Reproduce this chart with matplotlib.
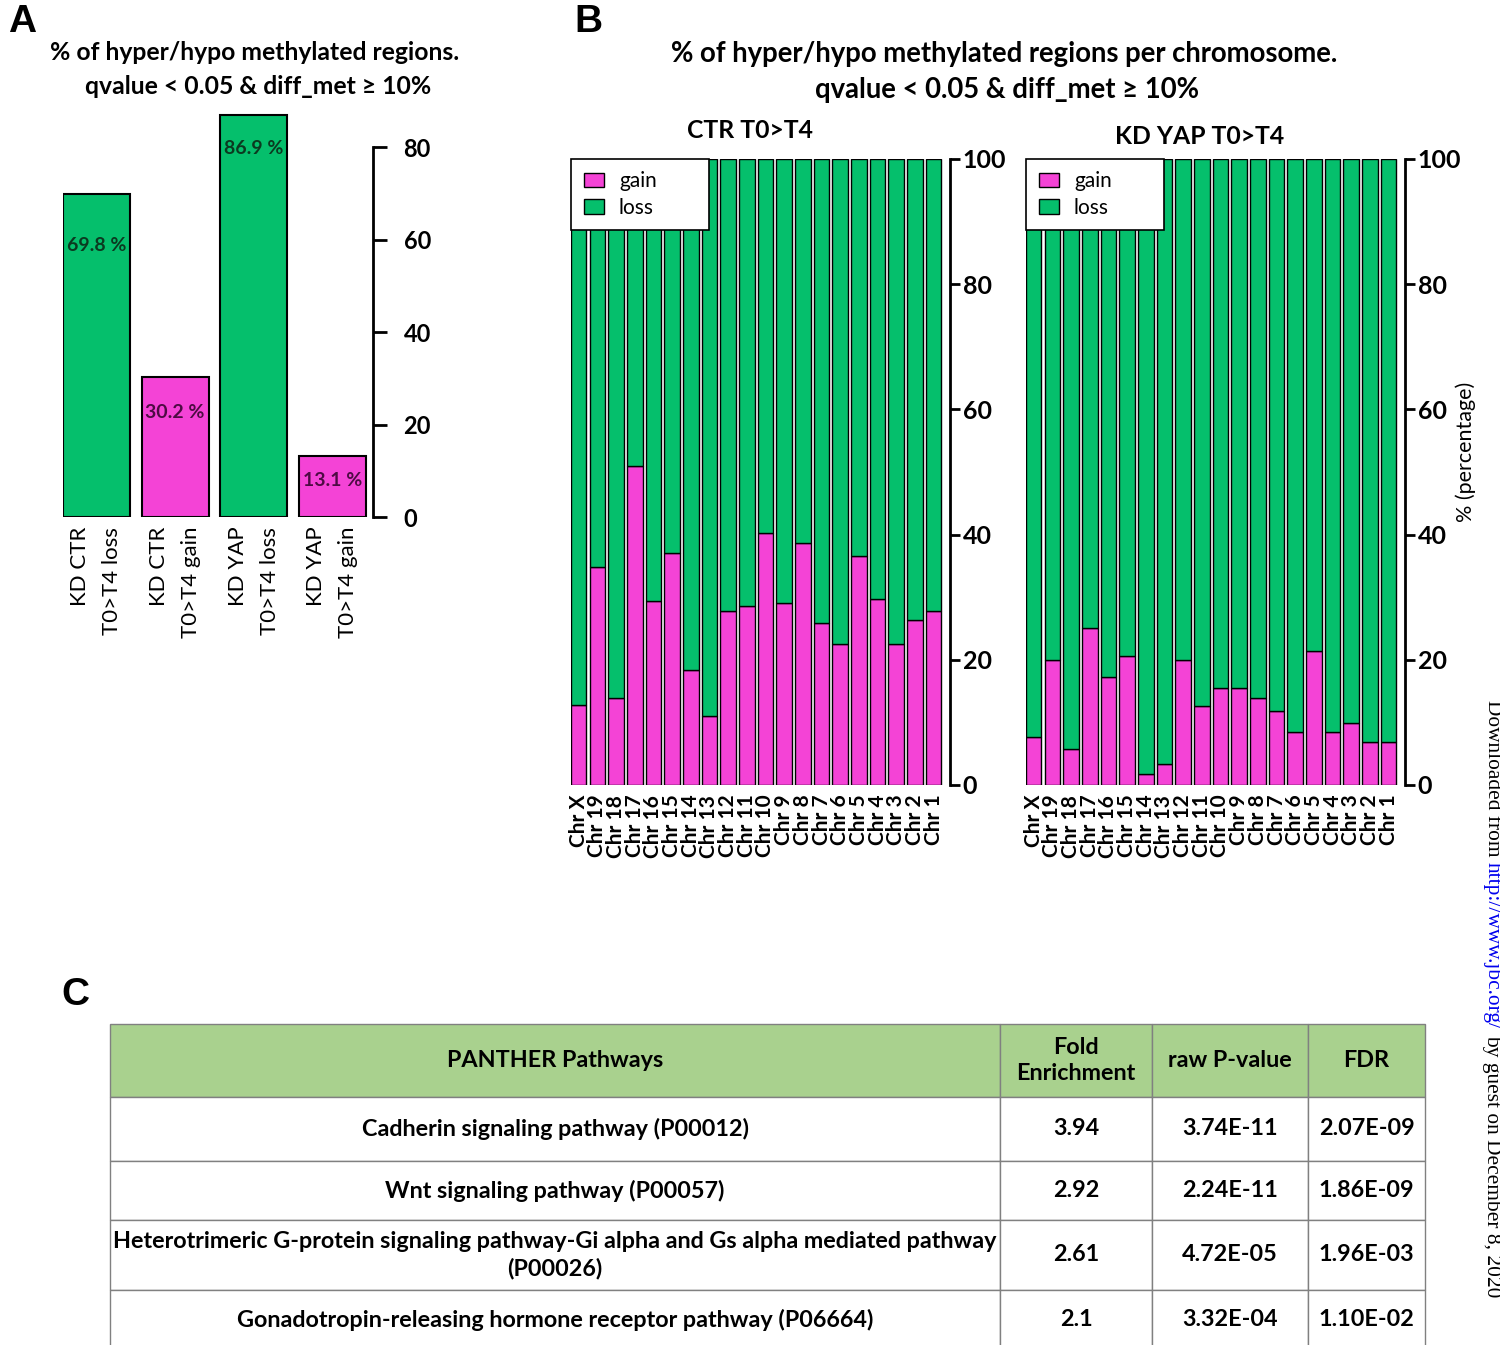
import matplotlib.pyplot as plt

W, H = 1500, 1345
FONT = ['Lato', 'DejaVu Sans']
GREEN = '#05BF6C'
PINK = '#F443D6'

plt.rcParams['font.family'] = FONT

# panel A : global share of gained / lost methylation
groups_a = ['KD CTR\nT0>T4 loss', 'KD CTR\nT0>T4 gain', 'KD YAP\nT0>T4 loss', 'KD YAP\nT0>T4 gain']
pct_a = [69.8, 30.2, 86.9, 13.1]
is_loss_a = [True, False, True, False]

# panel B : % gain per chromosome (loss is the rest up to 100)
chroms = ['Chr X', 'Chr 19', 'Chr 18', 'Chr 17', 'Chr 16', 'Chr 15', 'Chr 14', 'Chr 13', 'Chr 12', 'Chr 11',
          'Chr 10', 'Chr 9', 'Chr 8', 'Chr 7', 'Chr 6', 'Chr 5', 'Chr 4', 'Chr 3', 'Chr 2', 'Chr 1']
gain_ctr = [12.8, 34.8, 13.9, 50.9, 29.4, 37.1, 18.3, 11.0, 27.8, 28.6,
            40.3, 29.0, 38.6, 25.9, 22.6, 36.6, 29.7, 22.6, 26.4, 27.8]
gain_yap = [7.7, 20.0, 5.8, 25.1, 17.3, 20.6, 1.7, 3.3, 20.0, 12.6,
            15.5, 15.5, 13.9, 11.9, 8.4, 21.4, 8.4, 9.9, 6.8, 6.8]

# panel C : PANTHER enrichment table
header_c = ['PANTHER Pathways', 'Fold\nEnrichment', 'raw P-value', 'FDR']
pathways = ['Cadherin signaling pathway (P00012)',
            'Wnt signaling pathway (P00057)',
            'Heterotrimeric G-protein signaling pathway-Gi alpha and Gs alpha mediated pathway\n(P00026)',
            'Gonadotropin-releasing hormone receptor pathway (P06664)']
fold_enrichment = ['3.94', '2.92', '2.61', '2.1']
raw_pvalue = ['3.74E-11', '2.24E-11', '4.72E-05', '3.32E-04']
fdr = ['2.07E-09', '1.86E-09', '1.96E-03', '1.10E-02']


def box(x0, y0, x1, y1):
    # pixel box (top-left origin) -> figure fraction
    return [x0 / W, 1 - y1 / H, (x1 - x0) / W, (y1 - y0) / H]


def at(x, y):
    return x / W, 1 - y / H


fig = plt.figure(figsize=(W / 100, H / 100), dpi=100)

# ---------- A ----------
axA = fig.add_axes(box(63, 100.75, 373, 517))
xa = range(len(pct_a))
colors_a = [GREEN if l else PINK for l in is_loss_a]
axA.bar(xa, pct_a, 0.85, color=colors_a, edgecolor='black', linewidth=1.5)
axA.set_xlim(-0.425, 3.515)
axA.set_ylim(0, 90)
label_drop = [11, 7.5, 7.3, 5.3]
for i, v in enumerate(pct_a):
    axA.text(i, v - label_drop[i], f'{v} %', ha='center', va='center', fontsize=14, fontweight='bold',
             color='#0b3a20' if is_loss_a[i] else '#4d0b43')
for s in ['left', 'top', 'bottom']:
    axA.spines[s].set_visible(False)
axA.spines['right'].set_bounds(0, 80)
axA.spines['right'].set_linewidth(2)
axA.yaxis.tick_right()
axA.set_yticks([0, 20, 40, 60, 80])
axA.tick_params(axis='y', length=10, width=2, pad=12, labelsize=17)
for t in axA.get_yticklabels():
    t.set_fontweight('bold')
axA.set_xticks(list(xa))
axA.set_xticklabels(groups_a, rotation=90, fontsize=16, multialignment='right', linespacing=1.75)
axA.tick_params(axis='x', length=0, pad=7)
axA.patch.set_visible(False)

fig.text(*at(255, 53), '% of hyper/hypo methylated regions.', ha='center', va='center', fontsize=17.8,
         fontweight='bold')
fig.text(*at(258, 86), 'qvalue < 0.05 & diff_met \u2265 10%', ha='center', va='center', fontsize=17.8,
         fontweight='bold')


# ---------- B ----------
def chrom_panel(rect, gains):
    ax = fig.add_axes(rect)
    x = range(len(chroms))
    loss = [100 - g for g in gains]
    ax.bar(x, gains, 0.83, color=PINK, edgecolor='black', linewidth=1, label='gain')
    ax.bar(x, loss, 0.83, bottom=gains, color=GREEN, edgecolor='black', linewidth=1, label='loss')
    ax.set_xlim(-0.415, 19.88)
    ax.set_ylim(0, 100)
    for s in ['left', 'top', 'bottom']:
        ax.spines[s].set_visible(False)
    ax.spines['right'].set_linewidth(2)
    ax.yaxis.tick_right()
    ax.set_yticks([0, 20, 40, 60, 80, 100])
    ax.tick_params(axis='y', length=7, width=2, pad=2, labelsize=18)
    for t in ax.get_yticklabels():
        t.set_fontweight('bold')
    ax.set_xticks(list(x))
    ax.set_xticklabels(chroms, rotation=90, fontsize=15, fontweight='bold')
    ax.tick_params(axis='x', length=0, pad=7)
    leg = ax.legend(loc='upper left', bbox_to_anchor=(0, 0, 0.364, 1), mode='expand', borderaxespad=0,
                    fontsize=15, fancybox=False, framealpha=1, edgecolor='black', handlelength=1.0,
                    handleheight=0.7, borderpad=0.6, labelspacing=0.3, handletextpad=0.7)
    leg.get_frame().set_linewidth(1.2)
    return ax


axB1 = chrom_panel(box(571, 159, 950, 785), gain_ctr)
axB2 = chrom_panel(box(1026, 159, 1405, 785), gain_yap)

fig.text(*at(1004, 54), '% of hyper/hypo methylated regions per chromosome.', ha='center', va='center',
         fontsize=19.8, fontweight='bold')
fig.text(*at(1007, 90), 'qvalue < 0.05 & diff_met \u2265 10%', ha='center', va='center', fontsize=19.8,
         fontweight='bold')
fig.text(*at(750, 131), 'CTR T0>T4', ha='center', va='center', fontsize=17.8, fontweight='bold')
fig.text(*at(1200, 136), 'KD YAP T0>T4', ha='center', va='center', fontsize=17.8, fontweight='bold')
fig.text(*at(1466, 452), '% (percentage)', ha='center', va='center', rotation=90, fontsize=15.5)

# ---------- C ----------
row_h = [73, 64, 59, 70, 60]
col_w = [890, 152, 156, 117]
axC = fig.add_axes(box(110, 1024, 1425, 1024 + sum(row_h)))
axC.axis('off')
cells = [list(r) for r in zip(pathways, fold_enrichment, raw_pvalue, fdr)]
tab = axC.table(cellText=cells, colLabels=header_c, colWidths=[w / sum(col_w) for w in col_w],
                cellLoc='center', bbox=[0, 0, 1, 1])
tab.auto_set_font_size(False)
tab.set_fontsize(16.8)
for (r, c), cell in tab.get_celld().items():
    cell.set_height(row_h[r])
    cell.set_edgecolor('#808080')
    cell.set_linewidth(1)
    cell.set_text_props(fontweight='bold', family=FONT, linespacing=1.34)
    if r == 0:
        cell.set_facecolor('#A9D18E')

# panel letters
for letter, x, y in [('A', 22, 22), ('B', 588, 22), ('C', 75, 995)]:
    fig.text(*at(x, y), letter, ha='center', va='center', fontsize=28, fontweight='bold',
             family='Liberation Sans')

# side note running down the right edge
bg = fig.add_axes([0, 0, 1, 1], zorder=-1)
bg.axis('off')
serif = dict(family='Liberation Serif', fontsize=15.4, rotation=-90, ha='center', va='top')
w1 = fig.text(*at(1492, 700), 'Downloaded from', **serif)
w2 = bg.annotate('http://www.jbc.org/', xy=(0.5, 0), xycoords=w1, xytext=(0, -4), textcoords='offset points',
                 color='#0000EE', **serif)
bg.annotate('by guest on December 8, 2020', xy=(0.5, 0), xycoords=w2, xytext=(0, -4),
            textcoords='offset points', **serif)

fig.savefig('out.png', dpi=100)
